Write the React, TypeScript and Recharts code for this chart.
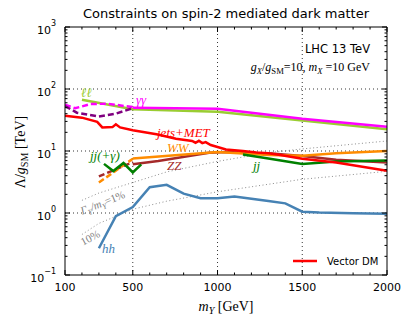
import React from 'react';
import { LineChart, Line, XAxis, YAxis, ReferenceLine } from 'recharts';

// mediator mass m_Y [GeV] and limits Λ/g_SM [TeV]
const llMass = [200, 500, 1000, 1500, 2000];
const llLambda = [67, 47, 43, 31, 22.5];

const aaMass = [500, 1000, 1500, 2000];
const aaLambda = [50, 48, 33, 24.5];
const aaLowMass = [100, 160, 250, 350, 500];
const aaLowLambda = [56, 49, 57, 58, 51];

const lowDashMass = [100, 170, 300, 400, 500];
const lowDashLambda = [53, 41.5, 36, 40, 49];

const metMass = [100, 200, 290, 320, 380, 400, 425, 500, 640, 755, 850, 870, 890, 910, 930, 960, 1000, 1050, 1150, 1230, 1300, 1370, 1500, 1700, 1900, 2000];
const metLambda = [37, 34.5, 29.5, 24, 24.3, 27, 24, 21.6, 18.6, 15.8, 14.5, 13.6, 14.6, 13.4, 13.9, 12.5, 11.6, 10.6, 10, 9.5, 9.2, 8.6, 7.5, 6.5, 5.3, 4.8];

const jjaMass = [330, 385, 445, 500, 550];
const jjaLambda = [6.2, 4.75, 6.4, 4.5, 6.1];

const jjMass = [1150, 1300, 1500, 1700, 2000];
const jjLambda = [8.8, 7.6, 6.2, 6.8, 7.0];

const wwLowMass = [300, 500];
const wwLowLambda = [3.1, 7.5];
const wwMass = [500, 1000, 1300, 1500, 1700, 2000];
const wwLambda = [7.6, 9.6, 8.6, 8.4, 9.2, 10];

const zzLowMass = [300, 500];
const zzLowLambda = [3.9, 6.6];
const zzMass = [500, 650, 950, 1050, 1230, 1300, 1500, 1700, 2000];
const zzLambda = [6.1, 6.9, 9.4, 9.6, 9.2, 9.2, 8.3, 7.2, 6.5];

const hhMass = [300, 400, 500, 600, 700, 800, 900, 1000, 1100, 1200, 1300, 1400, 1500, 1600, 1800, 2000];
const hhLambda = [0.27, 0.89, 1.25, 2.6, 2.85, 2.05, 1.73, 1.73, 1.84, 1.7, 1.56, 1.43, 1.05, 1.02, 0.99, 0.97];

// width contours Γ_Y/m_Y = 1% and 10%
const w1Mass = [200, 300, 500, 700, 1000, 1300, 1500, 2000];
const w1Lambda = [1.6, 2.1, 3.1, 4.6, 6.8, 9.4, 10.8, 14.5];
const w10Mass = [200, 300, 500, 700, 1000, 1500, 2000];
const w10Lambda = [0.45, 0.68, 1.15, 1.55, 2.2, 3.5, 4.7];

const xMajor = [100, 500, 1000, 1500, 2000];
const xTicks = Array.from({ length: 20 }, (_, i) => 100 + i * 100);
const yDecades = [0.1, 1, 10, 100, 1000];
const yTicks = yDecades.slice(0, -1).flatMap(d => [1, 2, 3, 4, 5, 6, 7, 8, 9].map(k => d * k)).concat([1000]);
const gridX = [500, 1000, 1500];
const gridY = [1, 10, 100];

const pts = (ms: number[], vs: number[]) => ms.map((m, i) => ({ m, v: vs[i] }));
const isDecade = (v: number) => yDecades.some(d => Math.abs(v / d - 1) < 1e-6);

const SANS = 'DejaVu Sans';
const MATH = "'Liberation Serif', 'DejaVu Serif', serif";

type Seg = { t: string; it?: boolean; sub?: boolean };

// renders mathtext-ish segments with subscripts
function MathSegs({ segs }: { segs: Seg[] }) {
  let level = 0;
  return (
    <>
      {segs.map((s, i) => {
        const target = s.sub ? 3 : 0;
        const dy = target - level;
        level = target;
        return (
          <tspan key={i} dy={dy || undefined} fontStyle={s.it ? 'italic' : 'normal'} fontSize={s.sub ? '0.72em' : undefined}>
            {s.t}
          </tspan>
        );
      })}
    </>
  );
}

const TickBottom = (p: any) => {
  const v = p.payload.value;
  const major = xMajor.includes(v);
  return (
    <g>
      <line x1={p.x} x2={p.x} y1={p.y} y2={p.y - (major ? 5 : 2.5)} stroke="#000" />
      {major && (
        <text x={p.x} y={p.y + 16} textAnchor="middle" fontFamily={SANS} fontSize={11} fill="#000">{v}</text>
      )}
    </g>
  );
};

const TickTop = (p: any) => {
  const major = xMajor.includes(p.payload.value);
  return <line x1={p.x} x2={p.x} y1={p.y} y2={p.y + (major ? 5 : 2.5)} stroke="#000" />;
};

const TickLeft = (p: any) => {
  const v = p.payload.value;
  const major = isDecade(v);
  const e = Math.round(Math.log10(v));
  return (
    <g>
      <line x1={p.x} x2={p.x + (major ? 5 : 2.5)} y1={p.y} y2={p.y} stroke="#000" />
      {major && (
        <text x={p.x - 9} y={p.y + 7} textAnchor="end" fontFamily={SANS} fontSize={11} fill="#000">
          10<tspan dy={-8} fontSize={8}>{e < 0 ? '\u2212' + -e : String(e)}</tspan>
        </text>
      )}
    </g>
  );
};

const TickRight = (p: any) => {
  const major = isDecade(p.payload.value);
  return <line x1={p.x} x2={p.x - (major ? 5 : 2.5)} y1={p.y} y2={p.y} stroke="#000" />;
};

export default function App() {
  const series = [
    { d: pts(w1Mass, w1Lambda), c: '#808080', w: 0.9, dash: '1 2.5' },
    { d: pts(w10Mass, w10Lambda), c: '#808080', w: 0.9, dash: '1 2.5' },
    { d: pts(hhMass, hhLambda), c: '#4682b4', w: 2.5 },
    { d: pts(zzLowMass, zzLowLambda), c: '#a52a2a', w: 2.5, dash: '6 3' },
    { d: pts(zzMass, zzLambda), c: '#a52a2a', w: 2.5 },
    { d: pts(wwLowMass, wwLowLambda), c: '#ff8c00', w: 2.5, dash: '6 3' },
    { d: pts(wwMass, wwLambda), c: '#ff8c00', w: 2.5 },
    { d: pts(jjaMass, jjaLambda), c: '#008000', w: 2.5 },
    { d: pts(jjMass, jjLambda), c: '#008000', w: 2.5 },
    { d: pts(llMass, llLambda), c: '#9acd32', w: 2.5 },
    { d: pts(aaMass, aaLambda), c: '#ff00ff', w: 2.5 },
    { d: pts(aaLowMass, aaLowLambda), c: '#ff00ff', w: 2.5, dash: '6 3' },
    { d: pts(lowDashMass, lowDashLambda), c: '#800080', w: 2.5, dash: '6 3' },
    { d: pts(metMass, metLambda), c: '#ff0000', w: 2.5 },
  ];

  return (
    <div style={{ position: 'relative', width: 412, height: 327 }}>
      <style>{'body{margin:0}'}</style>
      <LineChart width={412} height={327} margin={{ top: 26, right: 24, bottom: 51, left: 64 }}>
        <XAxis xAxisId="b" dataKey="m" type="number" domain={[100, 2000]} allowDataOverflow
          ticks={xTicks} interval={0} height={1} tickSize={0} tickMargin={0} tickLine={false}
          axisLine={{ stroke: '#000' }} tick={TickBottom} />
        <XAxis xAxisId="t" orientation="top" dataKey="m" type="number" domain={[100, 2000]} allowDataOverflow
          ticks={xTicks} interval={0} height={1} tickSize={0} tickMargin={0} tickLine={false}
          axisLine={{ stroke: '#000' }} tick={TickTop} />
        <YAxis yAxisId="l" type="number" scale="log" domain={[0.1, 1000]} allowDataOverflow
          ticks={yTicks} interval={0} width={1} tickSize={0} tickMargin={0} tickLine={false}
          axisLine={{ stroke: '#000' }} tick={TickLeft} />
        <YAxis yAxisId="r" orientation="right" type="number" scale="log" domain={[0.1, 1000]} allowDataOverflow
          ticks={yTicks} interval={0} width={1} tickSize={0} tickMargin={0} tickLine={false}
          axisLine={{ stroke: '#000' }} tick={TickRight} />
        {gridX.map(x => (
          <ReferenceLine key={'gx' + x} x={x} xAxisId="b" yAxisId="l" stroke="#000" strokeWidth={0.8} strokeDasharray="1 3" />
        ))}
        {gridY.map(y => (
          <ReferenceLine key={'gy' + y} y={y} xAxisId="b" yAxisId="l" stroke="#000" strokeWidth={0.8} strokeDasharray="1 3" />
        ))}
        {series.map((s, i) => (
          <Line key={i} data={s.d} dataKey="v" xAxisId="b" yAxisId="l" type="linear"
            stroke={s.c} strokeWidth={s.w} strokeDasharray={s.dash} dot={false} activeDot={false}
            isAnimationActive={false} />
        ))}
      </LineChart>
      <svg width={412} height={327} style={{ position: 'absolute', left: 0, top: 0, pointerEvents: 'none' }}>
        <text x={226} y={18} textAnchor="middle" fontFamily={SANS} fontSize={13} fill="#000">
          Constraints on spin-2 mediated dark matter
        </text>
        <text x={370} y={53} textAnchor="end" fontFamily={SANS} fontSize={11.5} fill="#000">LHC 13 TeV</text>
        <text x={370} y={71} textAnchor="end" fontFamily={MATH} fontSize={12} fill="#000">
          <MathSegs segs={[
            { t: 'g', it: true }, { t: 'X', it: true, sub: true }, { t: '/' }, { t: 'g', it: true },
            { t: 'SM', sub: true }, { t: '=10, ' }, { t: 'm', it: true }, { t: 'X', it: true, sub: true },
            { t: '\u00a0=10 GeV' },
          ]} />
        </text>
        <text x={226} y={311} textAnchor="middle" fontFamily={MATH} fontSize={14} fill="#000">
          <MathSegs segs={[{ t: 'm', it: true }, { t: 'Y', it: true, sub: true }, { t: '\u00a0[GeV]' }]} />
        </text>
        <text transform="translate(25,152) rotate(-90)" textAnchor="middle" fontFamily={MATH} fontSize={14} fill="#000">
          <MathSegs segs={[{ t: 'Λ/' }, { t: 'g', it: true }, { t: 'SM', sub: true }, { t: '\u00a0[TeV]' }]} />
        </text>

        <g fontFamily={MATH} fontStyle="italic" fontSize={13}>
          <text x={81} y={97} fill="#9acd32">ℓℓ</text>
          <text x={136} y={104} fill="#ff00ff">γγ</text>
          <text x={157} y={137} fill="#ff0000">jets+MET</text>
          <text x={167} y={152} fill="#ff8c00">WW</text>
          <text x={167} y={170} fill="#a52a2a">ZZ</text>
          <text x={90} y={160} fill="#008000">jj(+γ)</text>
          <text x={253} y={170} fill="#008000">jj</text>
          <text x={102} y={253} fill="#4682b4">hh</text>
        </g>
        <text transform="translate(104,206) rotate(-22)" textAnchor="middle" fontFamily={MATH} fontSize={11} fill="#808080">
          <MathSegs segs={[{ t: 'Γ', it: true }, { t: 'Y', it: true, sub: true }, { t: '/m', it: true }, { t: 'Y', it: true, sub: true }, { t: '=1%' }]} />
        </text>
        <text transform="translate(92,241) rotate(-28)" textAnchor="middle" fontFamily={MATH} fontSize={11} fill="#808080">10%</text>

        <line x1={293} x2={317} y1={261} y2={261} stroke="#ff0000" strokeWidth={2.5} />
        <text x={327} y={265} fontFamily={SANS} fontSize={10} fill="#000">Vector DM</text>
      </svg>
    </div>
  );
}
